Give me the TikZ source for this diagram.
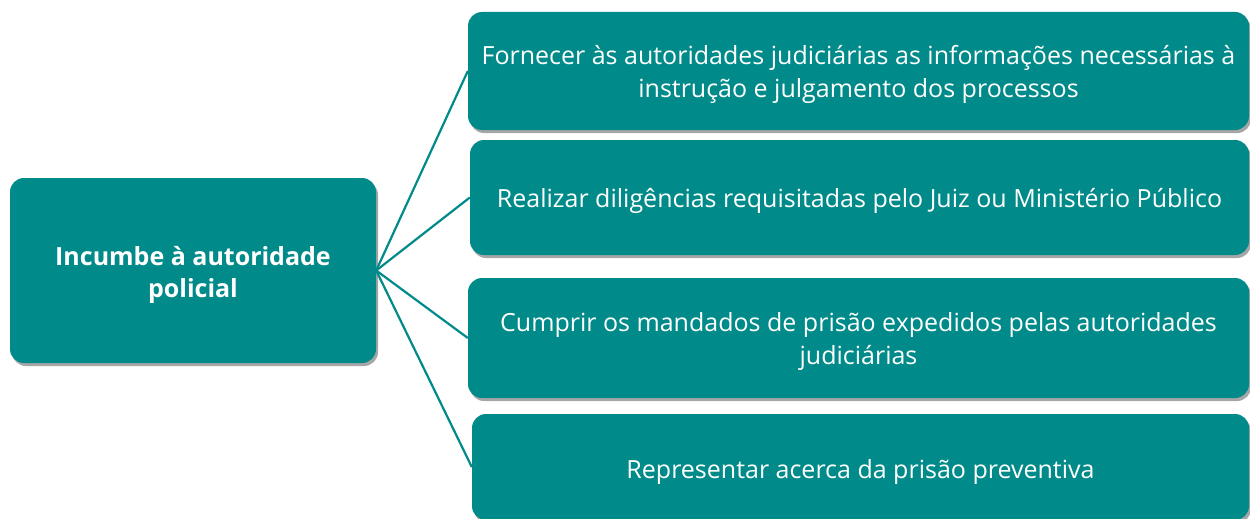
\documentclass[tikz,border=0pt]{standalone}
\usepackage{fontspec}
\setmainfont{Open Sans}
\usetikzlibrary{shadows}
\definecolor{teal1}{RGB}{0,138,137}
\tikzset{
  card/.style={rectangle, rounded corners=14pt, fill=teal1, inner sep=0pt,
    drop shadow={shadow xshift=2pt, shadow yshift=-3pt, opacity=0.35, fill=black}},
  txt/.style={text=white, align=center, inner sep=0pt, font=\fontsize{25}{33}\selectfont},
  link/.style={draw=teal1, line width=2.2pt}
}
\begin{document}
\begin{tikzpicture}[x=1pt,y=-1pt]
\useasboundingbox (0,0) rectangle (1250,519);
\node[card, minimum width=366pt, minimum height=185pt] (L) at (193,270.5) {};
\node[card, minimum width=781pt, minimum height=118pt] (b1) at (858.5,71) {};
\node[card, minimum width=779pt, minimum height=115pt] (b2) at (859.5,197.5) {};
\node[card, minimum width=781pt, minimum height=120pt] (b3) at (858.5,338) {};
\node[card, minimum width=777pt, minimum height=106pt] (b4) at (860.5,467) {};
\node[txt, font=\bfseries\fontsize{25}{32}\selectfont] (tL) at ([yshift=-4pt]L.center) {Incumbe à autoridade\\policial};
\node[txt] (t1) at ([yshift=-3.5pt]b1.center) {Fornecer às autoridades judiciárias as informações necessárias à\\instrução e julgamento dos processos};
\node[txt] (t2) at ([yshift=-3pt]b2.center) {Realizar diligências requisitadas pelo Juiz ou Ministério Público};
\node[txt] (t3) at ([yshift=-3.5pt]b3.center) {Cumprir os mandados de prisão expedidos pelas autoridades\\judiciárias};
\node[txt] (t4) at ([yshift=-5pt]b4.center) {Representar acerca da prisão preventiva};
\draw[link] (L.east) -- (b1.west);
\draw[link] (L.east) -- (b2.west);
\draw[link] (L.east) -- (b3.west);
\draw[link] (L.east) -- (b4.west);
\end{tikzpicture}
\end{document}
